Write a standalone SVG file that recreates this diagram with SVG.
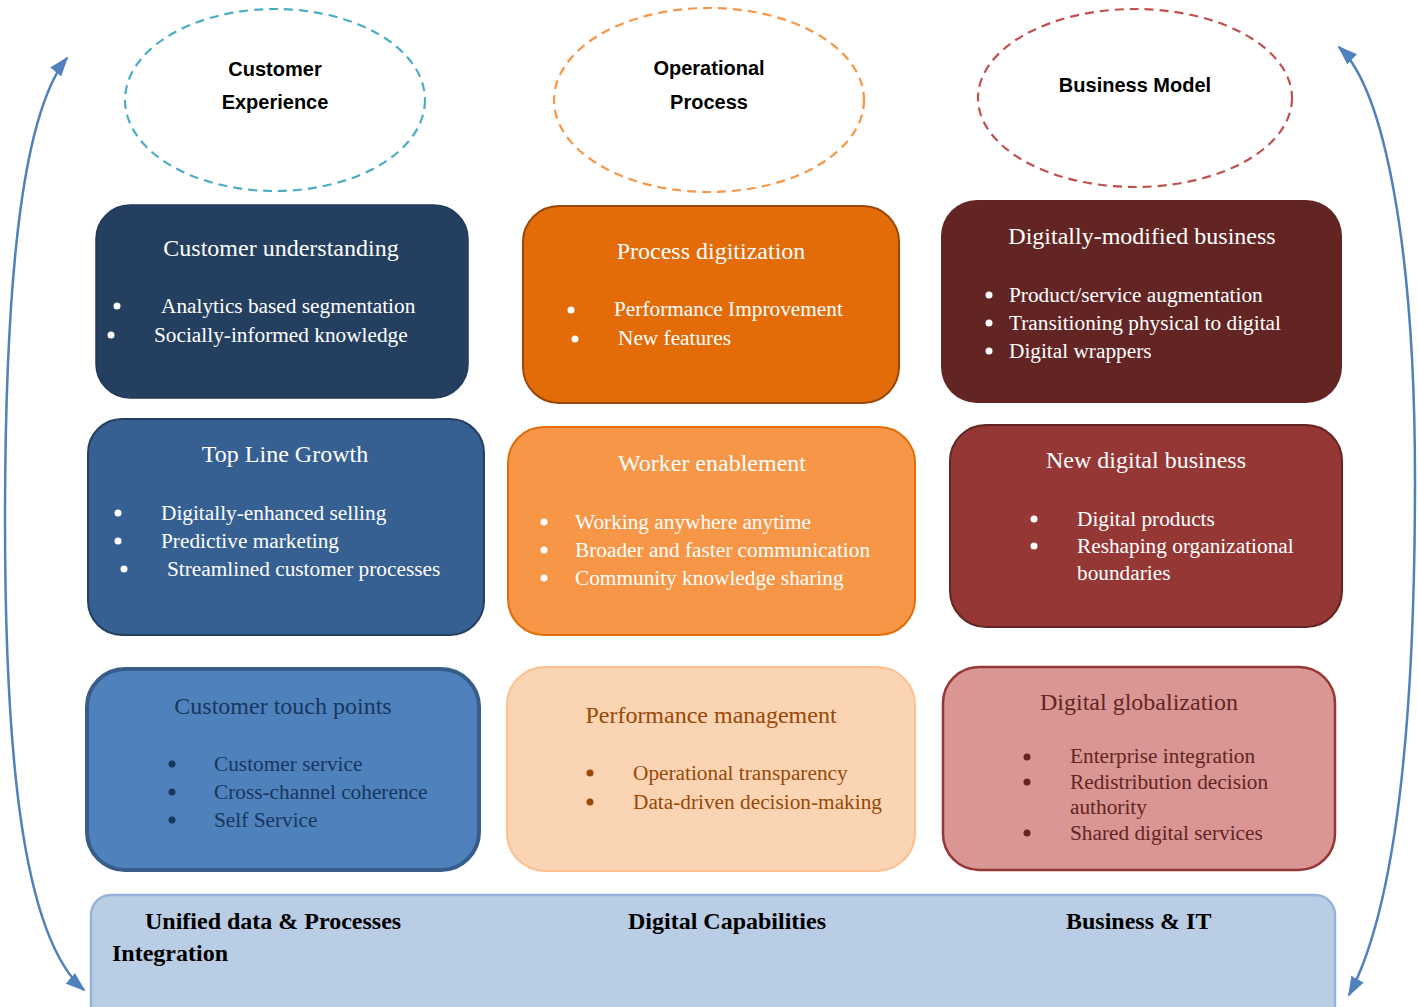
<svg xmlns="http://www.w3.org/2000/svg" width="1418" height="1007" viewBox="0 0 1418 1007">
  <defs>
    <marker id="arrowHead" viewBox="0 0 20 14" refX="18" refY="7" markerWidth="20" markerHeight="14" markerUnits="userSpaceOnUse" orient="auto-start-reverse">
      <path d="M0,0 L20,7 L0,14 Z" fill="#4F81BD"/>
    </marker>
  </defs>
  <style>
    .oval { fill: none; stroke-width: 2.2; stroke-dasharray: 9 6; }
    .ovalText { font-family: "Liberation Sans", Arial, sans-serif; font-weight: bold; font-size: 20px; fill: #000; text-anchor: middle; }
    .title { font-family: "Liberation Serif", "Times New Roman", serif; font-size: 24px; text-anchor: middle; }
    .item { font-family: "Liberation Serif", "Times New Roman", serif; font-size: 21.3px; }
    .light { fill: #FFFFFF; }
    .navy { fill: #17375E; }
    .brown { fill: #984807; }
    .maroon { fill: #632523; }
    .base { font-family: "Liberation Serif", "Times New Roman", serif; font-weight: bold; font-size: 24px; fill: #000; }
    .loop { fill: none; stroke: #4F81BD; stroke-width: 2.5; marker-start: url(#arrowHead); marker-end: url(#arrowHead); }
  </style>

  <rect width="1418" height="1007" fill="#FFFFFF"/>

  <!-- Perspective ovals -->
  <g id="customer-experience">
    <ellipse class="oval" cx="275" cy="100" rx="150" ry="91" stroke="#4BACC6"/>
    <text class="ovalText" x="275" y="76">Customer</text>
    <text class="ovalText" x="275" y="109">Experience</text>
  </g>
  <g id="operational-process">
    <ellipse class="oval" cx="709" cy="100" rx="155" ry="92" stroke="#F79646"/>
    <text class="ovalText" x="709" y="75">Operational</text>
    <text class="ovalText" x="709" y="109">Process</text>
  </g>
  <g id="business-model">
    <ellipse class="oval" cx="1135" cy="98" rx="157" ry="89" stroke="#C0504D"/>
    <text class="ovalText" x="1135" y="92">Business Model</text>
  </g>

  <!-- Customer column -->
  <g id="customer-understanding">
    <rect x="96" y="205" width="372" height="193" rx="34" fill="#243F60" stroke="#213A59" stroke-width="1.5"/>
    <text class="title light" x="281" y="256">Customer understanding</text>
    <circle cx="117" cy="306" r="3.5" fill="#FFFFFF"/>
    <text class="item light" x="161" y="313">Analytics based segmentation</text>
    <circle cx="111" cy="335" r="3.5" fill="#FFFFFF"/>
    <text class="item light" x="154" y="342">Socially-informed knowledge</text>
  </g>
  <g id="top-line-growth">
    <rect x="88" y="419" width="396" height="216" rx="34" fill="#366092" stroke="#243F60" stroke-width="2"/>
    <text class="title light" x="285" y="462">Top Line Growth</text>
    <circle cx="118" cy="513" r="3.5" fill="#FFFFFF"/>
    <text class="item light" x="161" y="520">Digitally-enhanced selling</text>
    <circle cx="118" cy="541" r="3.5" fill="#FFFFFF"/>
    <text class="item light" x="161" y="548">Predictive marketing</text>
    <circle cx="124" cy="569" r="3.5" fill="#FFFFFF"/>
    <text class="item light" x="167" y="576">Streamlined customer processes</text>
  </g>
  <g id="customer-touch-points">
    <rect x="87" y="669" width="392" height="201" rx="38" fill="#4F81BD" stroke="#385D8A" stroke-width="4"/>
    <text class="title navy" x="283" y="714">Customer touch points</text>
    <circle cx="172" cy="764" r="3.5" fill="#17375E"/>
    <text class="item navy" x="214" y="771">Customer service</text>
    <circle cx="172" cy="792" r="3.5" fill="#17375E"/>
    <text class="item navy" x="214" y="799">Cross-channel coherence</text>
    <circle cx="172" cy="820" r="3.5" fill="#17375E"/>
    <text class="item navy" x="214" y="827">Self Service</text>
  </g>

  <!-- Operations column -->
  <g id="process-digitization">
    <rect x="523" y="206" width="376" height="197" rx="36" fill="#E36C09" stroke="#984807" stroke-width="2"/>
    <text class="title light" x="711" y="259">Process digitization</text>
    <circle cx="571" cy="310" r="3.5" fill="#FFFFFF"/>
    <text class="item light" x="614" y="316">Performance Improvement</text>
    <circle cx="575" cy="339" r="3.5" fill="#FFFFFF"/>
    <text class="item light" x="618" y="345">New features</text>
  </g>
  <g id="worker-enablement">
    <rect x="508" y="427" width="407" height="208" rx="36" fill="#F79646" stroke="#E36C09" stroke-width="2"/>
    <text class="title light" x="712" y="471">Worker enablement</text>
    <circle cx="544" cy="522" r="3.5" fill="#FFFFFF"/>
    <text class="item light" x="575" y="529">Working anywhere anytime</text>
    <circle cx="544" cy="550" r="3.5" fill="#FFFFFF"/>
    <text class="item light" x="575" y="557">Broader and faster communication</text>
    <circle cx="544" cy="578" r="3.5" fill="#FFFFFF"/>
    <text class="item light" x="575" y="585">Community knowledge sharing</text>
  </g>
  <g id="performance-management">
    <rect x="507" y="667" width="408" height="204" rx="38" fill="#FBD4B4" stroke="#FAC090" stroke-width="2"/>
    <text class="title brown" x="711" y="723">Performance management</text>
    <circle cx="590" cy="773" r="3.5" fill="#984807"/>
    <text class="item brown" x="633" y="780">Operational transparency</text>
    <circle cx="590" cy="802" r="3.5" fill="#984807"/>
    <text class="item brown" x="633" y="809">Data-driven decision-making</text>
  </g>

  <!-- Business model column -->
  <g id="digitally-modified-business">
    <rect x="941" y="200" width="401" height="203" rx="36" fill="#632523"/>
    <text class="title light" x="1142" y="244">Digitally-modified business</text>
    <circle cx="989" cy="295" r="3.5" fill="#FFFFFF"/>
    <text class="item light" x="1009" y="302">Product/service augmentation</text>
    <circle cx="989" cy="323" r="3.5" fill="#FFFFFF"/>
    <text class="item light" x="1009" y="330">Transitioning physical to digital</text>
    <circle cx="989" cy="351" r="3.5" fill="#FFFFFF"/>
    <text class="item light" x="1009" y="358">Digital wrappers</text>
  </g>
  <g id="new-digital-business">
    <rect x="950" y="425" width="392" height="202" rx="36" fill="#953735" stroke="#632523" stroke-width="2"/>
    <text class="title light" x="1146" y="468">New digital business</text>
    <circle cx="1034" cy="519" r="3.5" fill="#FFFFFF"/>
    <text class="item light" x="1077" y="526">Digital products</text>
    <circle cx="1034" cy="546" r="3.5" fill="#FFFFFF"/>
    <text class="item light" x="1077" y="553">Reshaping organizational</text>
    <text class="item light" x="1077" y="580">boundaries</text>
  </g>
  <g id="digital-globalization">
    <rect x="943" y="667" width="392" height="203" rx="36" fill="#D99694" stroke="#953735" stroke-width="2.5"/>
    <text class="title maroon" x="1139" y="710">Digital globalization</text>
    <circle cx="1027" cy="757" r="3.5" fill="#632523"/>
    <text class="item maroon" x="1070" y="763">Enterprise integration</text>
    <circle cx="1027" cy="782" r="3.5" fill="#632523"/>
    <text class="item maroon" x="1070" y="789">Redistribution decision</text>
    <text class="item maroon" x="1070" y="814">authority</text>
    <circle cx="1027" cy="833" r="3.5" fill="#632523"/>
    <text class="item maroon" x="1070" y="840">Shared digital services</text>
  </g>

  <!-- Foundation bar -->
  <g id="digital-capabilities">
    <rect x="91" y="895" width="1244" height="140" rx="20" fill="#B9CDE5" stroke="#95B3D7" stroke-width="2.5"/>
    <text class="base" x="145" y="929">Unified data &amp; Processes</text>
    <text class="base" x="112" y="961">Integration</text>
    <text class="base" x="628" y="929">Digital Capabilities</text>
    <text class="base" x="1066" y="929">Business &amp; IT</text>
  </g>

  <!-- Feedback loops on both sides -->
  <g id="connectors">
    <path class="loop" d="M67,58 C25,110 5,260 5,520 C5,740 20,935 84,990"/>
    <path class="loop" d="M1339,47 C1385,90 1415,250 1415,480 C1415,700 1400,900 1349,995"/>
  </g>
</svg>
